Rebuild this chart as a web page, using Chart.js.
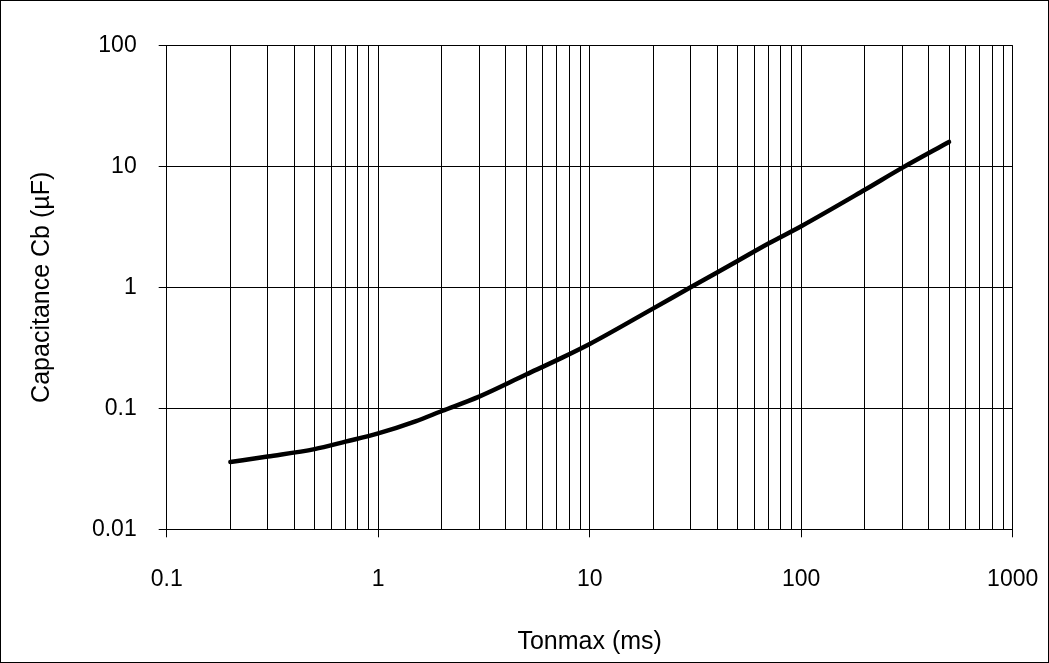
<!DOCTYPE html>
<html>
<head>
<meta charset="utf-8">
<script src="https://cdn.jsdelivr.net/npm/chart.js@4/dist/chart.umd.min.js"></script>
<style>
    html, body { margin: 0; padding: 0; background: #fff; }
    #wrap {
        width: 1049px;
        height: 663px;
        box-sizing: border-box;
        border: 1px solid #000;
        position: relative;
    }
</style>
</head>
<body>
<div id="wrap"><canvas id="chart"></canvas></div>
<script>
// Tonmax (ms) and the matching capacitance Cb (µF)
const tonmax = [0.2, 0.3, 0.5, 0.7, 1, 1.5, 2, 3, 5, 7, 10, 20, 30, 50, 70, 100, 200, 300, 500];
const capacitance = [0.036, 0.040, 0.046, 0.053, 0.062, 0.078, 0.095, 0.125, 0.19, 0.25, 0.34, 0.67, 1.0, 1.65, 2.3, 3.2, 6.4, 9.7, 15.9];

// Labelled decades on each axis
const xMajor = [0.1, 1, 10, 100, 1000];
const xLabels = ['0.1', '1', '10', '100', '1000'];
const yMajor = [0.01, 0.1, 1, 10, 100];
const yLabels = ['0.01', '0.1', '1', '10', '100'];

// Minor gridlines 1..9 per decade on the x axis
function logTicks(majors) {
    const out = [];
    for (let i = 0; i < majors.length - 1; i++) {
        for (let m = 1; m < 10; m++) {
            out.push(Number((majors[i] * m).toPrecision(3)));
        }
    }
    out.push(majors[majors.length - 1]);
    return out;
}

const font = { family: '"Liberation Sans", Arial, sans-serif', size: 23 };

const ctx = document.getElementById('chart').getContext('2d');
new Chart(ctx, {
    type: 'line',
    data: {
        datasets: [{
            data: tonmax.map((x, i) => ({ x: x, y: capacitance[i] })),
            borderColor: '#000',
            borderWidth: 4.5,
            borderCapStyle: 'round',
            pointRadius: 0,
            cubicInterpolationMode: 'monotone',
            fill: false
        }]
    },
    options: {
        responsive: true,
        maintainAspectRatio: false,
        animation: false,
        layout: {
            padding: { top: 44.3, right: 35.3, bottom: 0, left: 0 }
        },
        scales: {
            x: {
                type: 'logarithmic',
                min: 0.1,
                max: 1000,
                afterBuildTicks: scale => {
                    scale.ticks = logTicks(xMajor).map(v => ({ value: v }));
                },
                afterFit: scale => {
                    scale.height = 132.7;
                    scale.paddingLeft = 0;
                    scale.paddingRight = 0;
                },
                grid: {
                    color: '#000',
                    lineWidth: 1,
                    tickLength: 8,
                    tickColor: c => (c.tick && xMajor.includes(c.tick.value)) ? '#000' : 'rgba(0,0,0,0)'
                },
                border: { color: '#000', width: 1 },
                ticks: {
                    autoSkip: false,
                    maxRotation: 0,
                    padding: 29,
                    color: '#000',
                    font: font,
                    callback: v => {
                        const i = xMajor.indexOf(v);
                        return i >= 0 ? xLabels[i] : '';
                    }
                },
                title: {
                    display: true,
                    text: 'Tonmax (ms)',
                    color: '#000',
                    font: { family: font.family, size: 25 },
                    padding: { top: 0, bottom: 5 }
                }
            },
            y: {
                type: 'logarithmic',
                min: 0.01,
                max: 100,
                afterBuildTicks: scale => {
                    scale.ticks = yMajor.map(v => ({ value: v }));
                },
                afterFit: scale => {
                    scale.width = 165.7;
                    scale.paddingTop = 0;
                    scale.paddingBottom = 0;
                },
                grid: {
                    color: '#000',
                    lineWidth: 1,
                    tickLength: 8,
                    tickColor: '#000'
                },
                border: { color: '#000', width: 1 },
                ticks: {
                    autoSkip: false,
                    padding: 22,
                    color: '#000',
                    font: font,
                    callback: v => {
                        const i = yMajor.indexOf(v);
                        return i >= 0 ? yLabels[i] : '';
                    }
                },
                title: {
                    display: true,
                    text: 'Capacitance Cb (µF)',
                    color: '#000',
                    font: { family: font.family, size: 25 },
                    padding: { top: 26, bottom: 0 }
                }
            }
        },
        plugins: {
            legend: { display: false },
            tooltip: { enabled: false }
        }
    }
});
</script>
</body>
</html>
